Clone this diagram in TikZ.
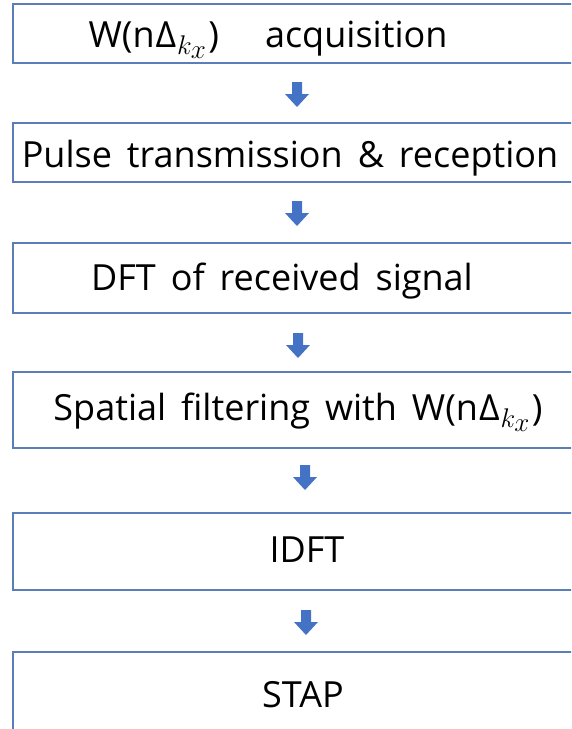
\RequirePackage{fix-cm}
\documentclass[tikz,border=0pt]{standalone}
\usepackage{fontspec}
\setmainfont[WordSpace=1.6]{Open Sans}
\definecolor{boxblue}{HTML}{4472C4}
\definecolor{edgeblue}{HTML}{5B7DB8}
\tikzset{
  stepframe/.style={draw=edgeblue, line width=1.4pt},
  steplabel/.style={anchor=base, inner sep=0pt, font=\fontsize{36}{40}\selectfont},
  flowarrow/.style={fill=boxblue, draw=none}
}
% weight window W(n Delta_{k_x}) with an italic subscript
\newcommand{\wdelta}{W(n\kern1pt Δ\kern1pt\raisebox{-0.2em}{\fontsize{27}{30}\selectfont$k_{\textstyle x}$}\kern2pt)}
\begin{document}
\begin{tikzpicture}[x=1pt, y=-1pt]
  \useasboundingbox (0,0) rectangle (571,729);
  \clip (0,0) rectangle (571,729);

  % process boxes (they run past the right and bottom edges)
  \draw[stepframe] (13,4)   rectangle (600,63);
  \draw[stepframe] (13,123) rectangle (600,182);
  \draw[stepframe] (13,243) rectangle (600,313);
  \draw[stepframe] (13,372) rectangle (600,448);
  \draw[stepframe] (13,513) rectangle (600,590);
  \draw[stepframe] (13,652) rectangle (600,760);

  % labels
  \node[steplabel] (t1) at (268,47)  {\wdelta\hspace{46pt}acquisition};
  \node[steplabel] (t2) at (290,167) {Pulse transmission \& reception};
  \node[steplabel] (t3) at (282,290) {DFT of received signal};
  \node[steplabel] (t4) at (298,420) {Spatial filtering with \wdelta};
  \node[steplabel] (t5) at (307,562) {IDFT};
  \node[steplabel] (t6) at (303,707) {STAP};

  % block arrows between the steps
  \foreach \cx/\ty in {297/82, 297/201, 298/333, 305/465, 306/610}{
    \fill[flowarrow] (\cx-5,\ty) -- (\cx+5,\ty) -- (\cx+5,\ty+12) -- (\cx+12,\ty+12)
      -- (\cx,\ty+25) -- (\cx-12,\ty+12) -- (\cx-5,\ty+12) -- cycle;
  }
\end{tikzpicture}
\end{document}
